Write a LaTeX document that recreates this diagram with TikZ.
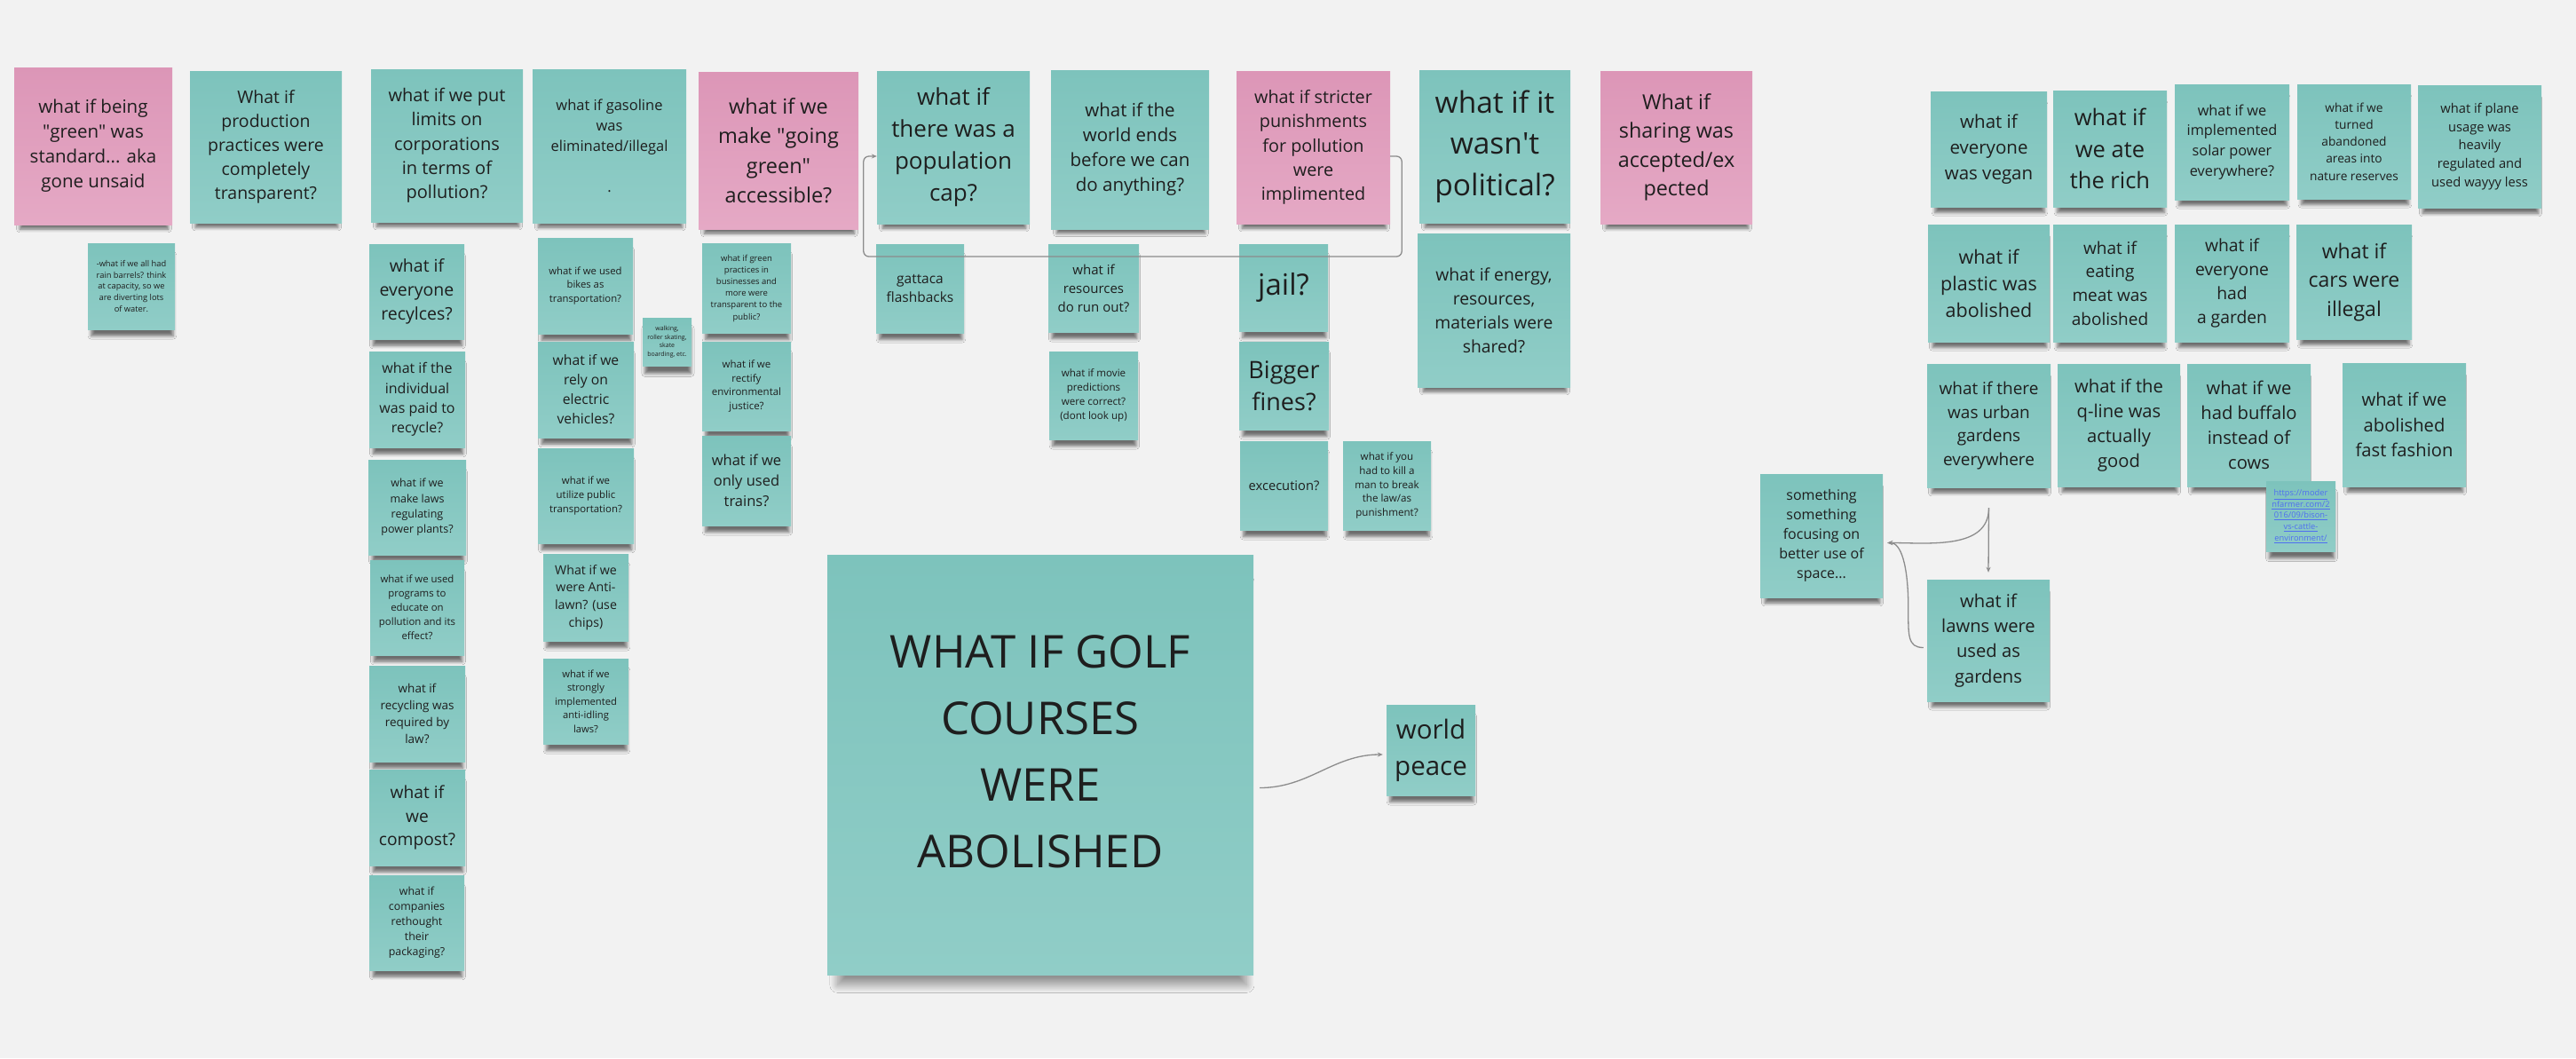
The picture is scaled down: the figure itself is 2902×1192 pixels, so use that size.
\documentclass[tikz,border=0pt]{standalone}
\usepackage{fontspec}
\setmainfont{Open Sans}
\usepackage{xcolor}
\definecolor{board}{HTML}{F2F2F2}
\definecolor{notetop}{HTML}{7DC3BC}
\definecolor{notebot}{HTML}{90CDC7}
\definecolor{pinktop}{HTML}{DC96B7}
\definecolor{pinkbot}{HTML}{E5A9C5}
\definecolor{ink}{HTML}{1E1E1E}
\definecolor{wire}{HTML}{8C8C8C}
\definecolor{weblink}{HTML}{4F6FF0}
\usepackage{tikz}
\usetikzlibrary{arrows.meta,shadows.blur}

\begin{document}
\begin{tikzpicture}[
    x=1pt, y=-1pt,
    note/.style 2 args={rectangle, inner sep=0pt, align=center, text=ink,
      top color=notetop, bottom color=notebot,
      minimum width=#1pt, minimum height=#2pt,
      blur shadow={shadow xshift=1pt, shadow yshift=-11pt, shadow scale=0.94,
        shadow blur radius=4pt, shadow opacity=55}},
    poster/.style={rectangle, inner sep=0pt, align=center, text=ink,
      top color=notetop, bottom color=notebot,
      minimum width=480pt, minimum height=473pt,
      blur shadow={shadow xshift=2pt, shadow yshift=-22pt, shadow scale=0.96,
        shadow blur radius=9pt, shadow blur steps=30, shadow opacity=40}},
    pink/.style={top color=pinktop, bottom color=pinkbot},
    fs/.style 2 args={font=\fontsize{#1}{#2}\selectfont},
    wire/.style={draw=wire, line width=1.3pt},
    >={Stealth[length=6pt,width=5pt]}
  ]
    \path[use as bounding box, fill=board] (0,0) rectangle (2902,1192);

    % first column group
    \node[note={178}{177}, pink, fs={20.5}{28}] (green) at (105,164.5) {what if being\\\textquotedbl green\textquotedbl{} was\\standard... aka\\gone unsaid};
    \node[note={98}{97}, fs={9.3}{12.7}] (barrels) at (148,322.5) {-what if we all had\\rain barrels? think\\at capacity, so we\\are diverting lots\\of water.};
    \node[note={171}{171}, fs={19.5}{27}] (production) at (299.5,165.5) {What if\\production\\practices were\\completely\\transparent?};
    \node[note={171}{172}, fs={20}{27.3}] (limits) at (503.5,164) {what if we put\\limits on\\corporations\\in terms of\\pollution?};
    \node[note={107}{107}, fs={19.5}{26.8}] (recycle) at (469.5,328.5) {what if\\everyone\\recylces?};
    \node[note={108}{108}, fs={16}{22.2}] (paid) at (470,450) {what if the\\individual\\was paid to\\recycle?};
    \node[note={110}{107}, fs={12.5}{17.3}] (plants) at (470,571.5) {what if we\\make laws\\regulating\\power plants?};
    \node[note={106}{107}, fs={11.4}{15.9}] (educate) at (470,684.5) {what if we used\\programs to\\educate on\\pollution and its\\effect?};
    \node[note={108}{108}, fs={13.5}{19.2}] (bylaw) at (470,804) {what if\\recycling was\\required by\\law?};
    \node[note={108}{108}, fs={19.2}{26.9}] (compost) at (470,921) {what if\\we\\compost?};
    \node[note={107}{107}, fs={12.4}{17.1}] (packaging) at (469.5,1039.5) {what if\\companies\\rethought\\their\\packaging?};

    % transport
    \node[note={173}{173}, fs={16.5}{23}] (gasoline) at (686.5,164.5) {what if gasoline\\was\\eliminated/illegal\\~\\.};
    \node[note={107}{108}, fs={11.3}{15.8}] (bikes) at (659.5,322) {what if we used\\bikes as\\transportation?};
    \node[note={55}{54}, fs={7}{9.5}] (walking) at (751.5,385) {walking,\\roller skating,\\skate\\boarding, etc.};
    \node[note={108}{108}, fs={15.7}{22}] (electric) at (660,439) {what if we\\rely on\\electric\\vehicles?};
    \node[note={108}{107}, fs={11.4}{15.8}] (public) at (660,558.5) {what if we\\utilize public\\transportation?};
    \node[note={96}{98}, fs={14.2}{19.8}] (antilawn) at (660,673) {What if we\\were Anti-\\lawn? (use\\chips)};
    \node[note={96}{96}, fs={11.2}{15.4}] (idling) at (660,790) {what if we\\strongly\\implemented\\anti-idling\\laws?};

    \node[note={180}{177}, pink, fs={23.5}{33.5}] (access) at (877,169.5) {what if we\\make \textquotedbl going\\green\textquotedbl\\accessible?};
    \node[note={100}{101}, fs={9.5}{13.2}] (practices) at (841,324.5) {what if green\\practices in\\businesses and\\more were\\transparent to the\\public?};
    \node[note={100}{100}, fs={11.5}{15.8}] (justice) at (841,435) {what if we\\rectify\\environmental\\justice?};
    \node[note={100}{101}, fs={16.5}{23.2}] (trains) at (841,541.5) {what if we\\only used\\trains?};

    \node[note={172}{172}, fs={26}{36}] (popcap) at (1074,166) {what if\\there was a\\population\\cap?};
    \node[note={99}{100}, fs={15.5}{21}] (gattaca) at (1036.5,325) {gattaca\\flashbacks};
    \node[note={178}{179}, fs={20.5}{28}] (worldend) at (1273,168.5) {what if the\\world ends\\before we can\\do anything?};
    \node[note={102}{99}, fs={15}{21}] (runout) at (1232,324.5) {what if\\resources\\do run out?};
    \node[note={100}{99}, fs={11.6}{15.9}] (movie) at (1232,445.5) {what if movie\\predictions\\were correct?\\(dont look up)};

    % punishments
    \node[note={173}{172}, pink, fs={19.8}{27.3}] (stricter) at (1479.5,166) {what if stricter\\punishments\\for pollution\\were\\implimented};
    \node[note={100}{98}, fs={33}{46}] (jail) at (1446,324) {jail?};
    \node[note={101}{99}, fs={27}{35.7}] (fines) at (1446.5,434.5) {Bigger\\fines?};
    \node[note={99}{100}, fs={14.7}{20}] (execution) at (1446.5,547) {excecution?};
    \node[note={99}{100}, fs={11.6}{15.8}] (killman) at (1562.5,547) {what if you\\had to kill a\\man to break\\the law/as\\punishment?};

    \node[note={170}{172}, fs={33.5}{46.7}] (political) at (1684,165) {what if it\\wasn\textquotesingle t\\political?};
    \node[note={172}{173}, fs={19.3}{27.1}] (shared) at (1683,349.5) {what if energy,\\resources,\\materials were\\shared?};
    \node[note={171}{172}, pink, fs={23.3}{32.5}] (sharing) at (1888.5,166) {What if\\sharing was\\accepted/ex\\pected};

    \node[poster, fs={51}{75}] (golf) at (1172,861.5) {WHAT IF GOLF\\COURSES\\WERE\\ABOLISHED\\[-45pt]~};
    \node[note={100}{102}, fs={29.5}{41}] (peace) at (1612,845) {world\\peace};

    % right cluster
    \node[note={131}{130}, fs={20.5}{28.8}] (vegan) at (2240.5,168) {what if\\everyone\\was vegan};
    \node[note={128}{131}, fs={25.5}{35.8}] (eatrich) at (2377,167.5) {what if\\we ate\\the rich};
    \node[note={129}{130}, fs={16.3}{22.7}] (solar) at (2514.5,160) {what if we\\implemented\\solar power\\everywhere?};
    \node[note={128}{129}, fs={13.7}{19.2}] (reserves) at (2652,159.5) {what if we\\turned\\abandoned\\areas into\\nature reserves};
    \node[note={139}{138}, fs={14.7}{20.6}] (planes) at (2793.5,165) {what if plane\\usage was\\heavily\\regulated and\\used wayyy less};
    \node[note={137}{132}, fs={21.5}{30}] (plastic) at (2240.5,319) {what if\\plastic was\\abolished};
    \node[note={128}{132}, fs={19}{26.7}] (meat) at (2377,319) {what if\\eating\\meat was\\abolished};
    \node[note={129}{132}, fs={19.3}{26.8}] (garden) at (2514.5,319) {what if\\everyone\\had\\a garden};
    \node[note={130}{129}, fs={23}{32.5}] (cars) at (2652,317.5) {what if\\cars were\\illegal};
    \node[note={139}{139}, fs={19}{26.7}] (urban) at (2240.5,479.5) {what if there\\was urban\\gardens\\everywhere};
    \node[note={138}{138}, fs={20.2}{28.2}] (qline) at (2387,479) {what if the\\q-line was\\actually\\good};
    \node[note={139}{138}, fs={20.2}{28.2}] (buffalo) at (2533.5,479) {what if we\\had buffalo\\instead of\\cows};
    \node[note={139}{139}, fs={20.2}{28.3}] (fashion) at (2708.5,478.5) {what if we\\abolished\\fast fashion};
    \node[note={78}{79}, fs={9.3}{12.7}, text=weblink] (bison) at (2592,581.5) {\underline{https://moder}\\\underline{nfarmer.com/2}\\\underline{016/09/bison-}\\\underline{vs-cattle-}\\\underline{environment/}};
    \node[note={138}{139}, fs={16}{22}] (space) at (2052,603.5) {something\\something\\focusing on\\better use of\\space...};
    \node[note={138}{137}, fs={20.2}{28.3}] (lawns) at (2240,721.5) {what if\\lawns were\\used as\\gardens};

    % connectors
    \draw[wire, ->, rounded corners=6pt] ([yshift=-10pt]stricter.east) -- ++(13,0)
      |- ([xshift=-15pt,yshift=-123pt]popcap.west) |- ([yshift=-10pt]popcap.west);
    \draw[wire, ->] ([xshift=7pt,yshift=-26pt]golf.east) to[out=0,in=180] ([xshift=-4pt,yshift=-5pt]peace.west);
    \draw[wire, ->] ([yshift=-23pt]urban.south) -- ([yshift=8pt]lawns.north);
    \draw[wire, ->] ([yshift=-23pt]urban.south) to[out=-90,in=0] ([xshift=5pt,yshift=-8pt]space.east);
    \draw[wire, ->] ([xshift=-4pt,yshift=-8pt]lawns.west) .. controls +(-18,0) and +(0,30) .. ([xshift=-21pt,yshift=36pt]lawns.west)
      .. controls +(0,-50) and +(15,0) .. ([xshift=5pt,yshift=-8pt]space.east);
  \end{tikzpicture}
\end{document}
